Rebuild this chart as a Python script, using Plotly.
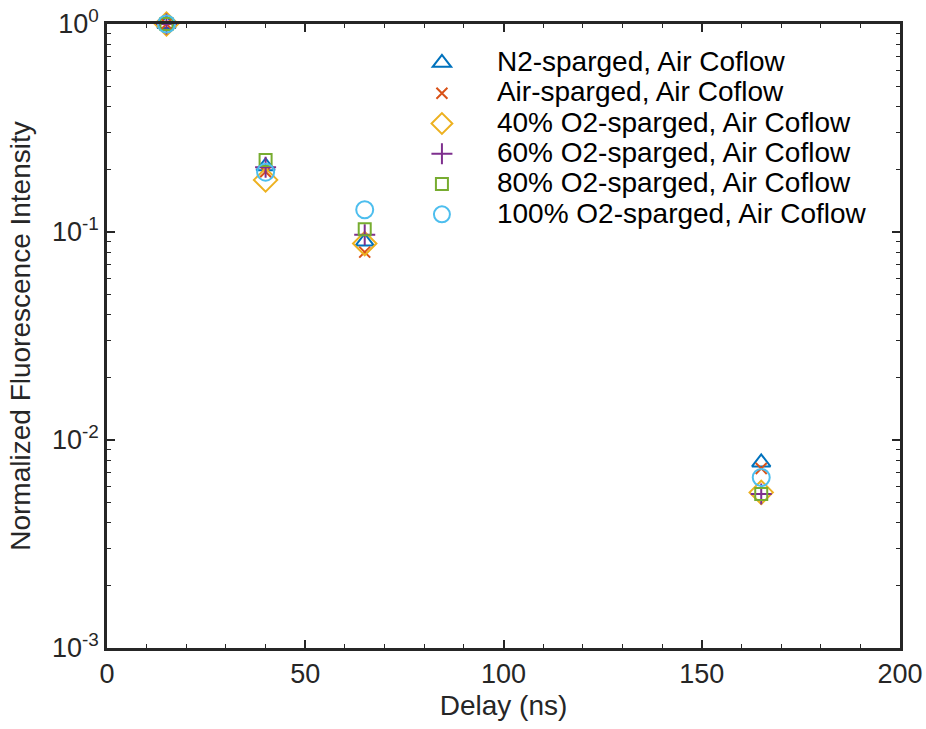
import plotly.graph_objects as go

delay = [15, 40, 65, 165]
names = ["N2-sparged, Air Coflow", "Air-sparged, Air Coflow", "40% O2-sparged, Air Coflow",
         "60% O2-sparged, Air Coflow", "80% O2-sparged, Air Coflow", "100% O2-sparged, Air Coflow"]
n2 = [1.0, 0.207, 0.090, 0.0078]
air = [1.0, 0.195, 0.080, 0.0073]
o40 = [1.0, 0.178, 0.088, 0.0056]
o60 = [1.0, 0.205, 0.097, 0.0055]
o80 = [1.0, 0.222, 0.103, 0.0055]
o100 = [1.0, 0.194, 0.128, 0.0066]
series = [n2, air, o40, o60, o80, o100]
colors = ["#0072BD", "#D95319", "#EDB120", "#7E2F8E", "#77AC30", "#4DBEEE"]
symbols = ["triangle-up-open", "x-thin-open", "diamond-open", "cross-thin-open", "square-open", "circle-open"]
sizes = [16, 11, 18, 15, 12, 17]

fig = go.Figure()
for nm, ys, c, s, sz in zip(names, series, colors, symbols, sizes):
    fig.add_trace(go.Scatter(x=delay, y=ys, mode="markers", cliponaxis=False,
                             name='<span style="font-size:28px">' + nm + '</span>',
                             marker=dict(symbol=s, size=sz, color=c, line=dict(color=c, width=2))))

minor_vals = [m * 10 ** e for e in (-3, -2, -1) for m in range(2, 10)]
axcol = "#262626"
fig.update_layout(
    width=926, height=729,
    margin=dict(l=107, r=26, t=24, b=81),
    paper_bgcolor="white", plot_bgcolor="white",
    font=dict(family="Liberation Sans, Arial", size=27, color="#262626"),
    showlegend=True,
    legend=dict(x=0.353, y=0.97, xanchor="left", yanchor="top", bgcolor="rgba(0,0,0,0)",
                font=dict(size=21, color="black"), itemwidth=100, tracegroupgap=0),
    xaxis=dict(range=[0, 200], tickvals=[0, 50, 100, 150, 200], ticks="inside", ticklen=8,
               showline=True, linecolor=axcol, linewidth=2.5, mirror="allticks", tickcolor=axcol,
               tickwidth=1.5, showgrid=False, zeroline=False, automargin=False,
               minor=dict(dtick=10, ticks="inside", ticklen=4, tickcolor=axcol, tickwidth=1.2, showgrid=False),
               title=dict(text="Delay (ns)", standoff=8, font=dict(size=28))),
    yaxis=dict(type="log", range=[-3, 0], tickvals=[0.001, 0.01, 0.1, 1],
               ticktext=["10<sup>-3</sup>", "10<sup>-2</sup>", "10<sup>-1</sup>", "10<sup>0</sup>"],
               ticks="inside", ticklen=8, showline=True, linecolor=axcol, linewidth=2.5,
               mirror="allticks", tickcolor=axcol, tickwidth=1.5, showgrid=False, zeroline=False,
               automargin=False,
               minor=dict(tickvals=minor_vals, ticks="inside", ticklen=4, tickcolor=axcol, tickwidth=1.2, showgrid=False),
               title=dict(text="Normalized Fluorescence Intensity", standoff=14, font=dict(size=28))),
)
fig.write_html("out.html", config={"displayModeBar": False},
               post_script="document.body.style.margin='0';document.body.style.overflow='hidden';")
